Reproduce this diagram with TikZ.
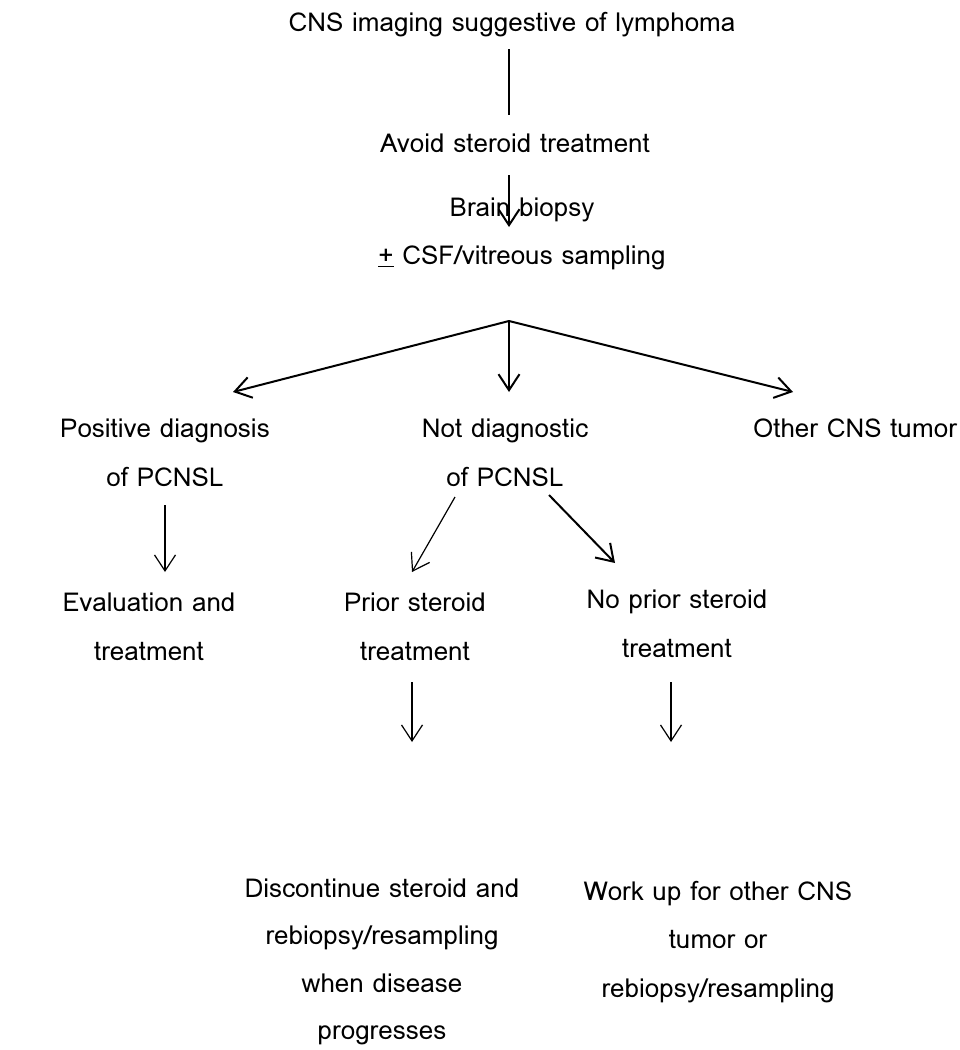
\documentclass[tikz,border=0pt]{standalone}
\usepackage{fontspec}
\setmainfont{Loma}
\usetikzlibrary{arrows.meta, calc}

\tikzset{
  lbl/.style={align=center, font=\fontsize{26}{48.5}\selectfont, inner sep=0pt},
  barb/.style={-{Straight Barb[length=16pt,width=21pt]}},
  heavy/.style={line width=2pt},
  light/.style={line width=1.2pt},
}

\begin{document}
\begin{tikzpicture}[x=1pt,y=-1pt]
\useasboundingbox (0,0) rectangle (959,1050);

% Labels
\node[lbl] (imaging) at (512,25) {CNS imaging suggestive of lymphoma};
\node[lbl] (avoid) at (515,143) {Avoid steroid treatment};
\node[lbl] (biopsy) at (522,234) {Brain biopsy\\\underline{+} CSF/vitreous sampling};
\node[lbl] (positive) at (165,453) {Positive diagnosis\\of PCNSL};
\node[lbl] (notdiag) at (505,453) {Not diagnostic\\of PCNSL};
\node[lbl] (other) at (855,428) {Other CNS tumor};
\node[lbl] (evaluation) at (149,627) {Evaluation and\\treatment};
\node[lbl] (prior) at (415,627) {Prior steroid\\treatment};
\node[lbl] (noprior) at (677,624) {No prior steroid\\treatment};
\node[lbl, font=\fontsize{26}{47.5}\selectfont] (discont) at (382,962) {Discontinue steroid and\\rebiopsy/resampling\\when disease\\progresses};
\node[lbl] (workup) at (718,942) {Work up for other CNS\\tumor or\\rebiopsy/resampling};

% Connector ends
\coordinate (imagingout) at (509,49);
\coordinate (avoidin) at (509,115);
\coordinate (avoidout) at (509,175);
\coordinate (biopsyin) at (509,227);
\coordinate (split) at (509,321);
\coordinate (positivein) at (233,392);
\coordinate (notdiagin) at (509,392);
\coordinate (otherin) at (793,392);
\coordinate (positiveout) at (165,505);
\coordinate (evaluationin) at (165,572);
\coordinate (notdiagl) at (455,497);
\coordinate (priorin) at (412,572);
\coordinate (notdiagr) at (549,495);
\coordinate (nopriorin) at (615,563);
\coordinate (priorout) at (412,682);
\coordinate (discontin) at (412,742);
\coordinate (nopriorout) at (671,682);
\coordinate (workupin) at (671,742);

% Top chain
\draw[heavy] (imagingout) -- (avoidin);
\draw[heavy, barb] (avoidout) -- (biopsyin);

% Three-way split
\draw[heavy, barb] (split) -- (positivein);
\draw[heavy, barb] (split) -- (notdiagin);
\draw[heavy, barb] (split) -- (otherin);

% Lower arrows
\draw[light, barb] (positiveout) -- (evaluationin);
\draw[light, barb] (notdiagl) -- (priorin);
\draw[heavy, barb] (notdiagr) -- (nopriorin);
\draw[light, barb] (priorout) -- (discontin);
\draw[light, barb] (nopriorout) -- (workupin);
\end{tikzpicture}
\end{document}
